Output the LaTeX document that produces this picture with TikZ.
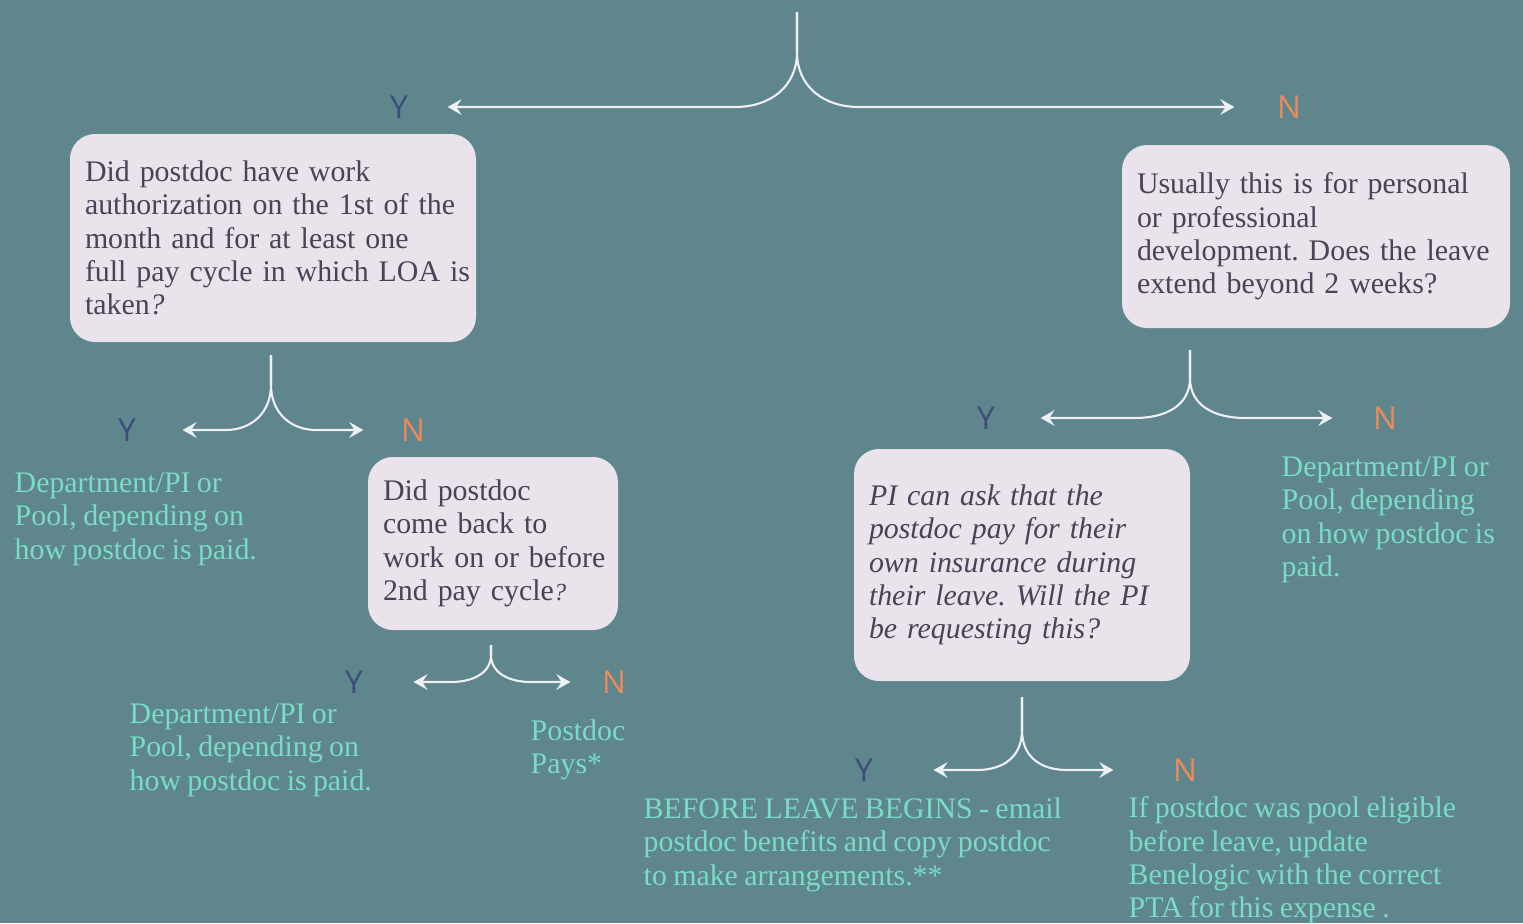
\documentclass[tikz,border=0pt]{standalone}
\usepackage{fontspec}
\setmainfont{Liberation Serif}[WordSpace=0.85]
\newfontfamily\ynfont{Open Sans}
\usepackage{tikz}
\usetikzlibrary{arrows.meta}
\frenchspacing

\definecolor{bgteal}{HTML}{5F868D}
\definecolor{boxfill}{HTML}{EAE3EB}
\definecolor{boxtext}{HTML}{4A4257}
\definecolor{answer}{HTML}{79DCC4}
\definecolor{yescol}{HTML}{3F4B7B}
\definecolor{nocol}{HTML}{EC8A5B}
\definecolor{forkcol}{HTML}{EDF1F3}

\begin{document}
\begin{tikzpicture}[
        >={Stealth[length=4pt,width=4.5pt,inset=1.5pt]},
        fork/.style={draw=forkcol, line width=0.6pt},
        question/.style={fill=boxfill, text=boxtext, rounded corners=0.25cm,
                         align=left, inner xsep=0.15cm, inner ysep=0pt,
                         font=\fontsize{8.5}{9.5}\selectfont},
        outcome/.style={text=answer, align=left, inner sep=0pt, anchor=north west,
                        font=\fontsize{8.5}{9.5}\selectfont},
        yeslabel/.style={text=yescol, inner sep=0pt, font=\ynfont\fontsize{9}{9}\selectfont},
        nolabel/.style={text=nocol, inner sep=0pt, font=\ynfont\fontsize{9}{9}\selectfont},
    ]
    \useasboundingbox (0cm, 0cm) rectangle (15.23cm, -9.23cm);
    \fill[bgteal] (0cm, 0cm) rectangle (15.23cm, -9.23cm);

    % questions
    \node[question, text width=3.76cm, minimum height=2.08cm] (authq) at (2.73cm, -2.38cm)
        {Did postdoc have work\\ \mbox{authorization on the 1st of the}\\ month and for at least one\\
         \mbox{full pay cycle in which LOA is}\\ taken\textit{?}};
    \node[question, text width=3.58cm, minimum height=1.83cm] (devq) at (13.16cm, -2.365cm)
        {Usually this is for personal\\ or professional\\ \mbox{development. Does the leave}\\
         extend beyond 2 weeks?};
    \node[question, text width=2.20cm, minimum height=1.73cm] (backq) at (4.93cm, -5.435cm)
        {Did postdoc\\ come back to\\ \mbox{work on or before}\\ 2nd pay cycle{\scriptsize\itshape ?}};
    \node[question, text width=3.06cm, minimum height=2.32cm,
          font=\fontsize{8.5}{9.5}\selectfont\itshape]
        (insq) at (10.22cm, -5.65cm)
        {PI can ask that the\\ postdoc pay for their\\ own insurance during\\
         \mbox{their leave. Will the PI}\\ be requesting this?};

    % Y / N labels
    \node[yeslabel] (yes1) at (3.99cm, -1.07cm) {Y};
    \node[nolabel] (no1) at (12.89cm, -1.07cm) {N};
    \node[yeslabel] (yes2) at (1.27cm, -4.30cm) {Y};
    \node[nolabel] (no2) at (4.13cm, -4.30cm) {N};
    \node[yeslabel] (yes3) at (3.54cm, -6.82cm) {Y};
    \node[nolabel] (no3) at (6.14cm, -6.82cm) {N};
    \node[yeslabel] (yes4) at (9.86cm, -4.18cm) {Y};
    \node[nolabel] (no4) at (13.85cm, -4.18cm) {N};
    \node[yeslabel] (yes5) at (8.64cm, -7.70cm) {Y};
    \node[nolabel] (no5) at (11.85cm, -7.70cm) {N};

    % outcomes
    \node[outcome] (deptA) at (0.14cm, -4.72cm)
        {Department/PI or\\ Pool, depending on\\ how postdoc is paid.};
    \node[outcome] (deptB) at (1.29cm, -7.03cm)
        {Department/PI or\\ Pool, depending on\\ how postdoc is paid.};
    \node[outcome] (pays) at (5.30cm, -7.19cm) {Postdoc\\ Pays*};
    \node[outcome] (deptC) at (12.81cm, -4.56cm)
        {Department/PI or\\ Pool, depending\\ on how postdoc is\\ paid.};
    \node[outcome] (email) at (6.43cm, -7.97cm)
        {BEFORE LEAVE BEGINS - email\\ postdoc benefits and copy postdoc\\ to make arrangements.**};
    \node[outcome] (pool) at (11.28cm, -7.96cm)
        {If postdoc was pool eligible\\ before leave, update\\ Benelogic with the correct\\
         PTA for this expense .};

    % forks
    \coordinate (fork1) at (7.97cm, -0.12cm);
    \draw[fork, ->, shorten >=0.39cm] (fork1) -- ++(0cm, -0.40cm)
        .. controls +(0cm, -0.35cm) and +(0.35cm, 0cm) .. ++(-0.62cm, -0.55cm) -- (yes1);
    \draw[fork, ->, shorten >=0.42cm] (fork1) -- ++(0cm, -0.40cm)
        .. controls +(0cm, -0.35cm) and +(-0.35cm, 0cm) .. ++(0.62cm, -0.55cm) -- (no1);

    \coordinate (fork2) at (2.71cm, -3.55cm);
    \draw[fork, ->, shorten >=0.46cm] (fork2) -- ++(0cm, -0.30cm)
        .. controls +(0cm, -0.28cm) and +(0.25cm, 0cm) .. ++(-0.45cm, -0.45cm) -- (yes2);
    \draw[fork, ->, shorten >=0.37cm] (fork2) -- ++(0cm, -0.30cm)
        .. controls +(0cm, -0.28cm) and +(-0.25cm, 0cm) .. ++(0.45cm, -0.45cm) -- (no2);

    \coordinate (fork3) at (4.91cm, -6.45cm);
    \draw[fork, ->, shorten >=0.50cm] (fork3) -- ++(0cm, -0.10cm)
        .. controls +(0cm, -0.18cm) and +(0.22cm, 0cm) .. ++(-0.40cm, -0.27cm) -- (yes3);
    \draw[fork, ->, shorten >=0.31cm] (fork3) -- ++(0cm, -0.10cm)
        .. controls +(0cm, -0.18cm) and +(-0.22cm, 0cm) .. ++(0.40cm, -0.27cm) -- (no3);

    \coordinate (fork4) at (11.90cm, -3.50cm);
    \draw[fork, ->, shorten >=0.45cm] (fork4) -- ++(0cm, -0.28cm)
        .. controls +(0cm, -0.28cm) and +(0.30cm, 0cm) .. ++(-0.55cm, -0.40cm) -- (yes4);
    \draw[fork, ->, shorten >=0.40cm] (fork4) -- ++(0cm, -0.28cm)
        .. controls +(0cm, -0.28cm) and +(-0.30cm, 0cm) .. ++(0.55cm, -0.40cm) -- (no4);

    \coordinate (fork5) at (10.22cm, -6.97cm);
    \draw[fork, ->, shorten >=0.60cm] (fork5) -- ++(0cm, -0.33cm)
        .. controls +(0cm, -0.28cm) and +(0.25cm, 0cm) .. ++(-0.45cm, -0.40cm) -- (yes5);
    \draw[fork, ->, shorten >=0.59cm] (fork5) -- ++(0cm, -0.33cm)
        .. controls +(0cm, -0.28cm) and +(-0.25cm, 0cm) .. ++(0.45cm, -0.40cm) -- (no5);

    \end{tikzpicture}
\end{document}
